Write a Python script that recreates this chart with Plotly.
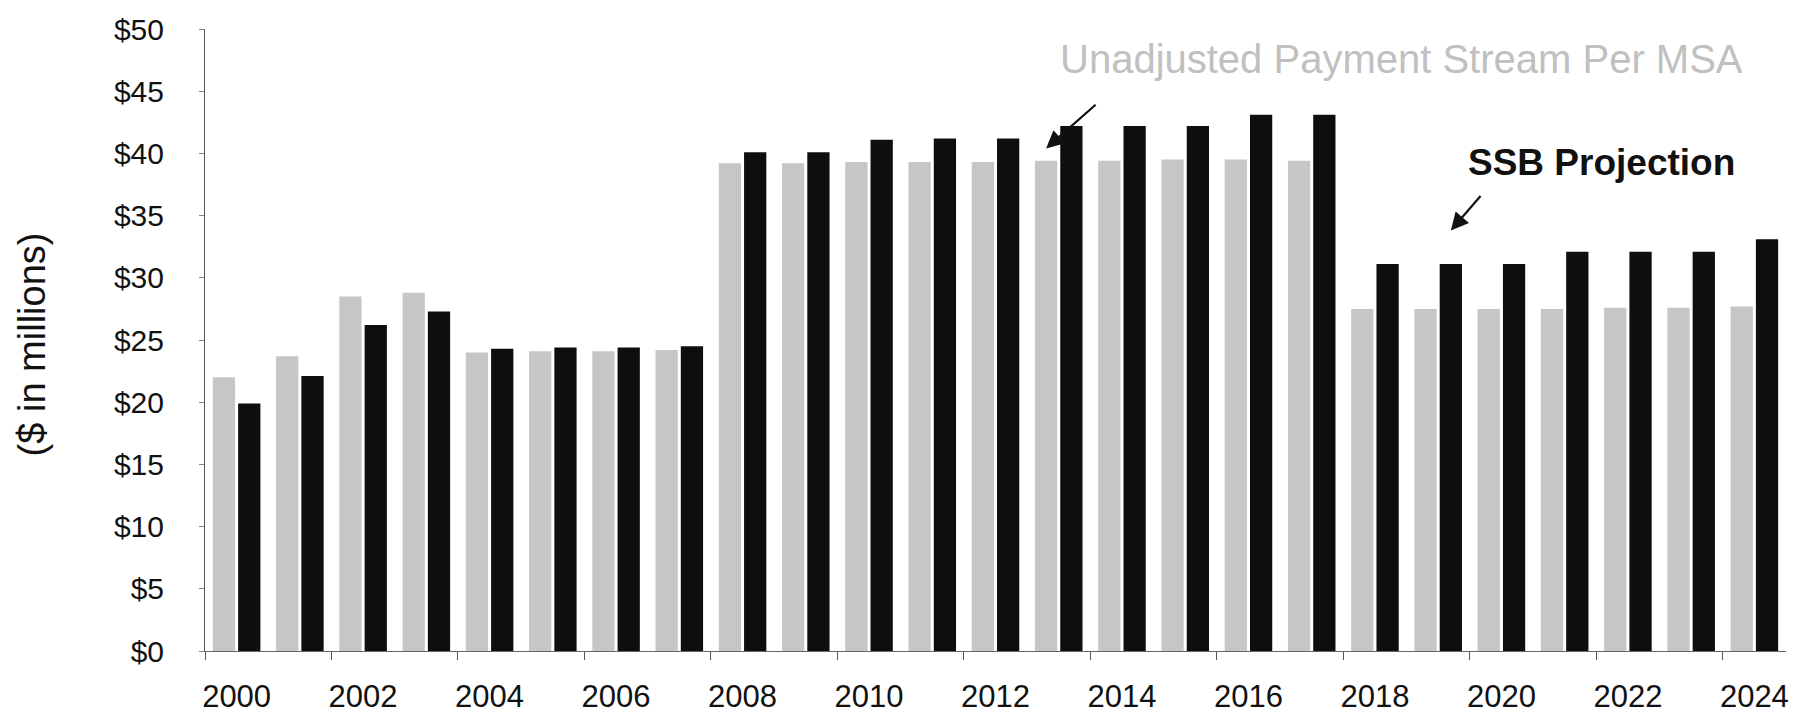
import plotly.graph_objects as go

years = list(range(2000, 2025))
unadjusted = [22.0, 23.7, 28.5, 28.8, 24.0, 24.1, 24.1, 24.2,
              39.2, 39.2, 39.3, 39.3, 39.3, 39.4, 39.4, 39.5, 39.5, 39.4,
              27.5, 27.5, 27.5, 27.5, 27.6, 27.6, 27.7]
ssb = [19.9, 22.1, 26.2, 27.3, 24.3, 24.4, 24.4, 24.5,
       40.1, 40.1, 41.1, 41.2, 41.2, 42.2, 42.2, 42.2, 43.1, 43.1,
       31.1, 31.1, 31.1, 32.1, 32.1, 32.1, 33.1]
label_years = years[::2]
boundary_ticks = [y - 0.5 for y in label_years]
y_ticks = list(range(0, 51, 5))
y_labels = ["$" + str(v) for v in y_ticks]

FONT = "Liberation Sans, Arial, sans-serif"

fig = go.Figure()
fig.add_trace(go.Bar(x=years, y=unadjusted, name="Unadjusted Payment Stream Per MSA",
                     marker=dict(color="#c6c6c6", line=dict(width=0))))
fig.add_trace(go.Bar(x=years, y=ssb, name="SSB Projection",
                     marker=dict(color="#0e0e0e", line=dict(width=0))))

fig.update_layout(
    width=1808, height=726,
    margin=dict(l=205, r=22, t=19, b=66),
    paper_bgcolor="white", plot_bgcolor="white",
    barmode="group", bargap=0.2, bargroupgap=0.12,
    showlegend=False,
    font=dict(family=FONT, color="#111111"),
)

fig.update_xaxes(
    range=[years[0] - 0.5, years[-1] + 0.5],
    tickmode="array", tickvals=label_years, ticktext=[str(y) for y in label_years],
    ticks="", showgrid=False, zeroline=False,
    showline=True, linecolor="#666666", linewidth=1,
    tickfont=dict(size=31, family=FONT, color="#111111"),
    ticklabelstandoff=18,
    minor=dict(tickmode="array", tickvals=boundary_ticks, ticks="outside",
               ticklen=8, tickcolor="#555555", tickwidth=1, showgrid=False),
)

fig.update_yaxes(
    range=[0, 50], tickmode="array", tickvals=y_ticks, ticktext=y_labels,
    ticks="outside", ticklen=5, tickcolor="#888888", tickwidth=1,
    showgrid=False, zeroline=False,
    showline=True, linecolor="#555555", linewidth=1,
    tickfont=dict(size=30, family=FONT, color="#111111"),
    ticklabelstandoff=29,
)

fig.add_annotation(text="($ in millions)", xref="paper", yref="paper",
                   x=-0.1094, y=0.493, xanchor="center", yanchor="middle",
                   textangle=-90, showarrow=False,
                   font=dict(size=38, family=FONT, color="#111111"))

fig.add_annotation(text="Unadjusted Payment Stream Per MSA", xref="paper", yref="paper",
                   x=0.7565, y=0.952, xanchor="center", yanchor="middle",
                   showarrow=False,
                   font=dict(size=40, family=FONT, color="#c0c0c0"))
fig.add_annotation(text="", xref="x", yref="y", x=2012.8, y=40.4,
                   ax=51, ay=-45, showarrow=True, arrowhead=2, arrowsize=1.6,
                   arrowwidth=2.2, arrowcolor="#111111")

fig.add_annotation(text="<b>SSB Projection</b>", xref="paper", yref="paper",
                   x=0.8836, y=0.785, xanchor="center", yanchor="middle",
                   showarrow=False,
                   font=dict(size=37, family=FONT, color="#111111"))
fig.add_annotation(text="", xref="x", yref="y", x=2019.2, y=33.8,
                   ax=31, ay=-36, showarrow=True, arrowhead=2, arrowsize=1.6,
                   arrowwidth=2.2, arrowcolor="#111111")

fig.write_html("out.html")
